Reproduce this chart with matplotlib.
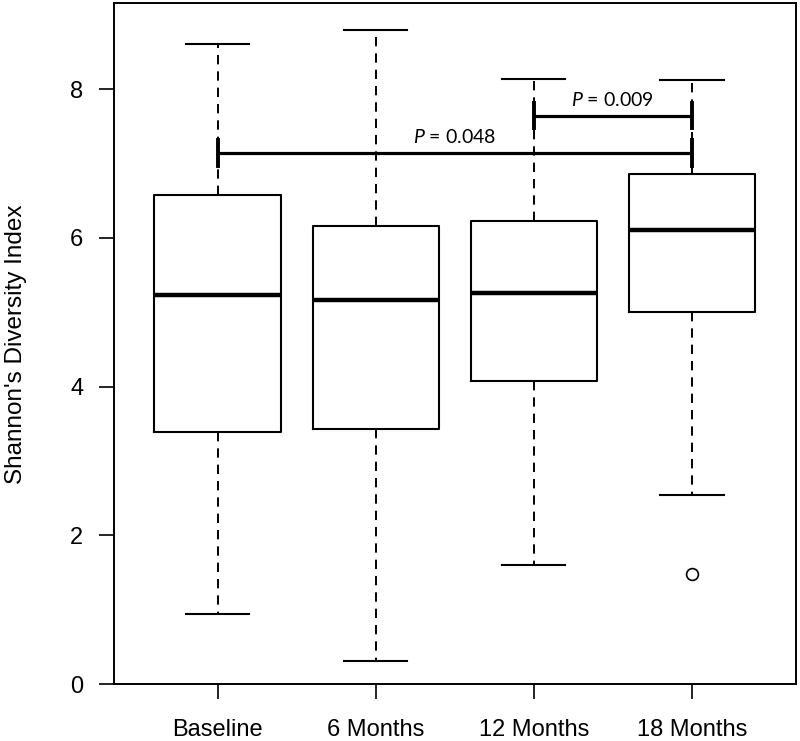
import matplotlib
matplotlib.use("Agg")
import matplotlib.pyplot as plt

# box summaries
groups = ["Baseline", "6 Months", "12 Months", "18 Months"]
whislo = [0.95, 0.32, 1.61, 2.55]
q1 = [3.39, 3.43, 4.07, 5.01]
med = [5.23, 5.17, 5.26, 6.10]
q3 = [6.57, 6.16, 6.23, 6.86]
whishi = [8.61, 8.80, 8.13, 8.12]
fliers = [[], [], [], [1.48]]

# significance brackets
bracket_from = [1, 3]
bracket_to = [4, 4]
bracket_y = [7.14, 7.64]
pvals = ["0.048", "0.009"]


def main():
    plt.rcParams["font.family"] = ["Liberation Sans", "DejaVu Sans"]
    plt.rcParams["mathtext.fontset"] = "custom"
    plt.rcParams["mathtext.rm"] = "Lato"
    plt.rcParams["mathtext.it"] = "Lato:italic"

    fig = plt.figure(figsize=(8.0, 7.41), dpi=100)
    ax = fig.add_axes([0.1425, 0.0765, 0.852, 0.9188])

    stats = []
    for i in range(len(groups)):
        stats.append(dict(label=groups[i], whislo=whislo[i], q1=q1[i],
                          med=med[i], q3=q3[i], whishi=whishi[i],
                          fliers=fliers[i]))

    ax.bxp(stats, positions=range(1, len(groups) + 1), widths=0.8,
           showfliers=True,
           boxprops=dict(color="black", linewidth=1.5),
           medianprops=dict(color="black", linewidth=3.2, solid_capstyle="butt"),
           whiskerprops=dict(color="black", linewidth=1.4, linestyle=(0, (4.8, 3.6))),
           capprops=dict(color="black", linewidth=1.5),
           capwidths=0.4,
           flierprops=dict(marker="o", markerfacecolor="none",
                           markeredgecolor="black", markersize=8.5,
                           markeredgewidth=1.2))

    for a, b, y, p in zip(bracket_from, bracket_to, bracket_y, pvals):
        ax.plot([a, b], [y, y], color="black", lw=2.3, solid_capstyle="butt")
        ax.plot([a, a], [y - 0.17, y + 0.17], color="black", lw=2.8)
        ax.plot([b, b], [y - 0.17, y + 0.17], color="black", lw=2.8)
        ax.text((a + b) / 2, y + 0.13, "$\\it{P}$ = " + p, ha="center",
                va="baseline", fontsize=14, family="Lato")

    ax.set_xlim(0.344, 4.656)
    ax.set_ylim(0.01, 9.15)
    ax.set_yticks([0, 2, 4, 6, 8])
    ax.set_xticks(range(1, len(groups) + 1))
    ax.set_xticklabels(groups)
    ax.tick_params(axis="both", length=11, width=1.2, labelsize=17,
                   colors="black")
    ax.tick_params(axis="x", pad=14)
    ax.tick_params(axis="y", pad=11)
    for s in ax.spines.values():
        s.set_linewidth(1.4)

    ax.set_ylabel("Shannon's Diversity Index", fontsize=17.5)
    ax.yaxis.set_label_coords(-0.128, 0.5)

    fig.savefig("out.png", dpi=100)


if __name__ == "__main__":
    main()
